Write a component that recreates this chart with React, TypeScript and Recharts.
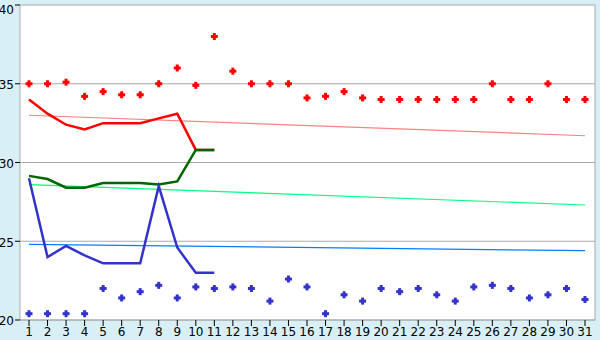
import React from 'react';
import { LineChart, Line, XAxis, YAxis, CartesianGrid } from 'recharts';

const days = [
    1, 2, 3, 4, 5, 6, 7, 8, 9, 10, 11, 12, 13, 14, 15, 16,
    17, 18, 19, 20, 21, 22, 23, 24, 25, 26, 27, 28, 29, 30, 31,
];

// daily highs (red points)
const highs = [
    35.0, 35.0, 35.1, 34.2, 34.5, 34.3, 34.3, 35.0, 36.0, 34.9, 38.0, 35.8, 35.0, 35.0, 35.0, 34.1,
    34.2, 34.5, 34.1, 34.0, 34.0, 34.0, 34.0, 34.0, 34.0, 35.0, 34.0, 34.0, 35.0, 34.0, 34.0,
];

// daily lows (blue points)
const lows = [
    20.4, 20.4, 20.4, 20.4, 22.0, 21.4, 21.8, 22.2, 21.4, 22.1, 22.0, 22.1, 22.0, 21.2, 22.6, 22.1,
    20.4, 21.6, 21.2, 22.0, 21.8, 22.0, 21.6, 21.2, 22.1, 22.2, 22.0, 21.4, 21.6, 22.0, 21.3,
];

const redLine = [34.0, 33.1, 32.4, 32.1, 32.5, 32.5, 32.5, 32.8, 33.1, 30.8, 30.8];
const greenLine = [29.15, 28.95, 28.4, 28.4, 28.7, 28.7, 28.7, 28.6, 28.8, 30.8, 30.8];
const blueLine = [29.0, 24.0, 24.7, 24.1, 23.6, 23.6, 23.6, 28.5, 24.6, 23.0, 23.0];

// trend lines: only the two end values are known
const redTrendEnds = [33.0, 31.7];
const greenTrendEnds = [28.6, 27.3];
const blueTrendEnds = [24.8, 24.4];

const yTicks = [20, 25, 30, 35, 40];

const ends = (pair: number[], i: number) =>
    i === 0 ? pair[0] : i === days.length - 1 ? pair[1] : null;

const data = days.map((d, i) => ({
    day: d,
    high: highs[i],
    low: lows[i],
    red: i < redLine.length ? redLine[i] : null,
    green: i < greenLine.length ? greenLine[i] : null,
    blue: i < blueLine.length ? blueLine[i] : null,
    redTrend: ends(redTrendEnds, i),
    greenTrend: ends(greenTrendEnds, i),
    blueTrend: ends(blueTrendEnds, i),
}));

const FONT = '"DejaVu Sans", Verdana, sans-serif';
const FONT_SIZE = 12;

const makeDot = (color: string) => (props: any) => {
    const { cx, cy, index } = props;
    if (cx == null || cy == null) return <g key={index} />;
    return (
        <g key={index} fill={color}>
            <rect x={cx - 3.5} y={cy - 1.5} width={7} height={3} />
            <rect x={cx - 1.5} y={cy - 3.5} width={3} height={7} />
        </g>
    );
};

const YTick = (props: any) => {
    const { x, y, payload } = props;
    return (
        <text x={x} y={y + 1} dy="0.355em" textAnchor="end" fontFamily={FONT} fontSize={FONT_SIZE} fill="#000">
            {payload.value}
        </text>
    );
};

export default function App() {
    return (
        <div style={{ width: 600, height: 340, background: '#d9eff6', position: 'absolute', left: 0, top: 0 }}>
            <style>{`body{margin:0}`}</style>
            <LineChart
                width={600}
                height={340}
                data={data}
                margin={{ top: 5, right: 5, bottom: 0, left: 0 }}
                style={{ overflow: 'visible' }}
            >
                <CartesianGrid
                    fill="#ffffff"
                    stroke="#aaaaaa"
                    strokeWidth={1}
                    vertical={true}
                    verticalCoordinatesGenerator={() => [595]}
                    horizontalValues={yTicks}
                />
                <XAxis
                    dataKey="day"
                    interval={0}
                    padding={{ left: 9, right: 10 }}
                    height={20}
                    tickSize={6}
                    tickMargin={1}
                    axisLine={{ stroke: '#aaaaaa' }}
                    tickLine={{ stroke: '#000' }}
                    tick={{ fontFamily: FONT, fontSize: FONT_SIZE, fill: '#000' }}
                />
                <YAxis
                    domain={[20, 40]}
                    ticks={yTicks}
                    width={20}
                    tickSize={5}
                    tickMargin={1}
                    axisLine={{ stroke: '#aaaaaa' }}
                    tickLine={{ stroke: '#000' }}
                    tick={<YTick />}
                    allowDataOverflow
                />
                <Line dataKey="redTrend" type="linear" stroke="#ff8080" strokeWidth={1.2} dot={false} connectNulls isAnimationActive={false} />
                <Line dataKey="greenTrend" type="linear" stroke="#00ff80" strokeWidth={1.2} dot={false} connectNulls isAnimationActive={false} />
                <Line dataKey="blueTrend" type="linear" stroke="#0080ff" strokeWidth={1.2} dot={false} connectNulls isAnimationActive={false} />
                <Line dataKey="red" type="linear" stroke="#ff0000" strokeWidth={2.5} dot={false} isAnimationActive={false} />
                <Line dataKey="green" type="linear" stroke="#006600" strokeWidth={2.5} dot={false} isAnimationActive={false} />
                <Line dataKey="blue" type="linear" stroke="#3333cc" strokeWidth={2.5} dot={false} isAnimationActive={false} />
                <Line dataKey="high" stroke="none" dot={makeDot('#ff0000')} activeDot={false} isAnimationActive={false} />
                <Line dataKey="low" stroke="none" dot={makeDot('#3333cc')} activeDot={false} isAnimationActive={false} />
            </LineChart>
        </div>
    );
}
